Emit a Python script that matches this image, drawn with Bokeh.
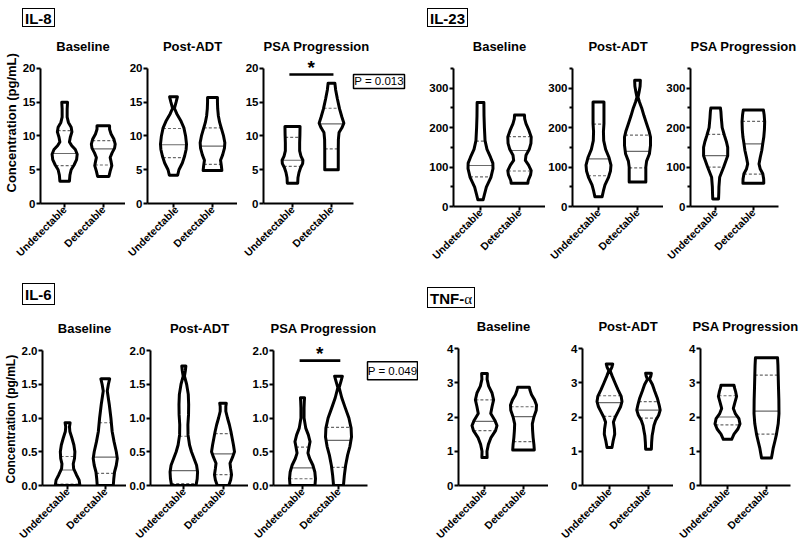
import math
import numpy as np
from bokeh.plotting import figure
from bokeh.models import Range1d, FixedTicker, Div, Title, NumeralTickFormatter
from bokeh.layouts import row, column
from bokeh.embed import file_html
from bokeh.resources import INLINE
from bokeh.core.properties import value

# ---------------- data ----------------
categories = ["Undetectable", "Detectable"]
timepoints = ["Baseline", "Post-ADT", "PSA Progression"]
cytokines = ["IL-8", "IL-23", "IL-6", "TNF-α"]
y_label = "Concentration (pg/mL)"
sig_labels = ["P = 0.013", "P = 0.049"]
sig_bar_levels = [19.1, 1.85]

# violin profiles: levels (y values) and relative half-widths; quartiles [Q1, median, Q3]
il8_base_und_y = [3.3, 4.2, 5.0, 5.7, 6.5, 7.3, 8.0, 8.6, 9.1, 9.8, 10.6, 11.3, 12.0, 12.8, 14.0, 15.0]
il8_base_und_w = [0.38, 0.42, 0.52, 0.75, 0.95, 1.0, 0.85, 0.55, 0.38, 0.45, 0.58, 0.52, 0.3, 0.2, 0.2, 0.23]
il8_base_und_q = [5.6, 7.4, 10.8]
il8_base_det_y = [4.0, 4.8, 5.6, 6.2, 6.8, 7.5, 8.2, 8.8, 9.5, 10.3, 11.0, 11.5]
il8_base_det_w = [0.45, 0.55, 0.68, 0.62, 0.55, 0.7, 0.9, 0.95, 0.85, 0.62, 0.5, 0.5]
il8_base_det_q = [5.7, 8.1, 9.3]
il8_post_und_y = [4.2, 5.0, 6.0, 7.0, 8.0, 8.8, 10.0, 11.2, 12.3, 13.3, 14.1, 15.0, 15.8]
il8_post_und_w = [0.32, 0.42, 0.68, 0.85, 0.97, 1.0, 0.93, 0.8, 0.55, 0.25, 0.07, 0.2, 0.3]
il8_post_und_q = [6.8, 8.7, 11.1]
il8_post_det_y = [4.9, 5.6, 6.4, 7.2, 8.2, 9.0, 10.0, 11.0, 12.0, 13.0, 14.0, 15.0, 15.7]
il8_post_det_w = [0.72, 0.68, 0.62, 0.78, 0.92, 0.95, 0.85, 0.7, 0.55, 0.45, 0.4, 0.38, 0.38]
il8_post_det_q = [5.8, 8.5, 11.2]
il8_psa_und_y = [3.0, 3.8, 4.6, 5.3, 5.9, 6.4, 7.0, 7.8, 9.0, 10.2, 11.4]
il8_psa_und_w = [0.4, 0.42, 0.5, 0.62, 0.78, 0.8, 0.65, 0.55, 0.55, 0.57, 0.58]
il8_psa_und_q = [5.5, 6.4, 9.8]
il8_psa_det_y = [5.0, 6.5, 8.0, 9.5, 10.5, 11.2, 11.9, 12.8, 14.0, 15.5, 16.8, 17.8]
il8_psa_det_w = [0.52, 0.52, 0.52, 0.53, 0.58, 0.8, 0.95, 0.8, 0.62, 0.45, 0.32, 0.26]
il8_psa_det_q = [8.1, 11.8, 14.1]

il23_base_und_y = [17, 30, 49, 74, 96, 110, 125, 145, 167, 200, 230, 264]
il23_base_und_w = [0.2, 0.3, 0.45, 0.8, 0.96, 0.95, 0.77, 0.5, 0.35, 0.3, 0.27, 0.26]
il23_base_und_q = [75, 104, 166]
il23_base_det_y = [59, 66, 80, 91, 105, 117, 130, 145, 160, 176, 195, 210, 222, 232]
il23_base_det_w = [0.64, 0.67, 0.85, 0.9, 0.7, 0.45, 0.5, 0.75, 0.88, 0.9, 0.7, 0.5, 0.4, 0.38]
il23_base_det_q = [90, 142, 177]
il23_post_und_y = [25, 40, 55, 74, 90, 105, 125, 145, 167, 190, 210, 240, 265]
il23_post_und_w = [0.28, 0.38, 0.5, 0.77, 0.92, 0.96, 0.8, 0.55, 0.4, 0.38, 0.42, 0.42, 0.42]
il23_post_und_q = [78, 121, 209]
il23_post_det_y = [62, 80, 100, 115, 134, 155, 176, 190, 210, 230, 250, 265, 277, 290, 305, 320]
il23_post_det_w = [0.64, 0.64, 0.64, 0.7, 0.92, 1.0, 1.0, 0.9, 0.7, 0.5, 0.32, 0.15, 0.04, 0.12, 0.2, 0.22]
il23_post_det_q = [98, 140, 181]
il23_psa_und_y = [19, 35, 49, 74, 100, 129, 150, 165, 180, 200, 225, 240, 250]
il23_psa_und_w = [0.23, 0.25, 0.26, 0.32, 0.64, 0.96, 0.96, 0.85, 0.7, 0.52, 0.45, 0.42, 0.38]
il23_psa_und_q = [100, 129, 183]
il23_psa_det_y = [59, 70, 83, 95, 108, 125, 142, 160, 176, 195, 215, 232, 245]
il23_psa_det_w = [0.83, 0.82, 0.75, 0.55, 0.45, 0.55, 0.67, 0.75, 0.83, 0.88, 0.9, 0.86, 0.8]
il23_psa_det_q = [82, 159, 216]

il6_base_und_y = [0.0, 0.08, 0.16, 0.25, 0.32, 0.4, 0.5, 0.6, 0.7, 0.8, 0.87, 0.93]
il6_base_und_w = [0.98, 0.92, 0.7, 0.48, 0.45, 0.55, 0.58, 0.5, 0.35, 0.18, 0.15, 0.2]
il6_base_und_q = [0.02, 0.23, 0.43]
il6_base_det_y = [0.0, 0.1, 0.2, 0.3, 0.4, 0.5, 0.65, 0.8, 1.0, 1.2, 1.4, 1.5, 1.58]
il6_base_det_w = [0.64, 0.68, 0.74, 0.88, 0.96, 0.88, 0.7, 0.55, 0.45, 0.32, 0.16, 0.25, 0.35]
il6_base_det_q = [0.18, 0.42, 0.93]
il6_post_und_y = [0.0, 0.1, 0.2, 0.3, 0.4, 0.5, 0.6, 0.75, 0.9, 1.05, 1.2, 1.35, 1.5, 1.62, 1.7, 1.77]
il6_post_und_w = [0.96, 1.05, 1.08, 1.0, 0.8, 0.6, 0.45, 0.33, 0.32, 0.37, 0.38, 0.35, 0.22, 0.05, 0.12, 0.16]
il6_post_und_q = [0.03, 0.22, 0.73]
il6_post_det_y = [0.0, 0.08, 0.16, 0.25, 0.33, 0.42, 0.5, 0.6, 0.7, 0.8, 0.9, 1.0, 1.1, 1.17, 1.22]
il6_post_det_w = [0.45, 0.6, 0.67, 0.6, 0.55, 0.75, 0.9, 0.82, 0.72, 0.62, 0.5, 0.35, 0.22, 0.22, 0.26]
il6_post_det_q = [0.16, 0.47, 0.77]
il6_psa_und_y = [0.0, 0.1, 0.2, 0.3, 0.4, 0.48, 0.57, 0.65, 0.75, 0.85, 1.0, 1.15, 1.25, 1.3]
il6_psa_und_w = [0.96, 1.0, 0.95, 0.8, 0.55, 0.42, 0.5, 0.58, 0.45, 0.25, 0.12, 0.12, 0.14, 0.16]
il6_psa_und_q = [0.1, 0.26, 0.57]
il6_psa_det_y = [0.0, 0.15, 0.3, 0.45, 0.58, 0.72, 0.85, 1.0, 1.15, 1.3, 1.45, 1.55, 1.62]
il6_psa_det_w = [0.38, 0.45, 0.55, 0.7, 0.88, 1.0, 0.97, 0.8, 0.52, 0.25, 0.05, 0.2, 0.3]
il6_psa_det_q = [0.27, 0.67, 0.86]

tnf_base_und_y = [0.82, 1.0, 1.2, 1.4, 1.6, 1.75, 1.9, 2.1, 2.3, 2.5, 2.7, 2.9, 3.1, 3.27]
tnf_base_und_w = [0.2, 0.19, 0.3, 0.5, 0.85, 0.96, 0.8, 0.48, 0.58, 0.7, 0.58, 0.32, 0.2, 0.22]
tnf_base_und_q = [1.6, 1.87, 2.5]
tnf_base_det_y = [1.04, 1.2, 1.4, 1.6, 1.8, 2.0, 2.2, 2.35, 2.5, 2.65, 2.78, 2.87]
tnf_base_det_w = [0.83, 0.8, 0.74, 0.7, 0.68, 0.8, 0.98, 1.0, 0.85, 0.62, 0.5, 0.45]
tnf_base_det_q = [1.28, 2.01, 2.3]
tnf_post_und_y = [1.11, 1.3, 1.5, 1.65, 1.85, 2.0, 2.15, 2.3, 2.45, 2.6, 2.8, 3.0, 3.2, 3.35, 3.45, 3.55]
tnf_post_und_w = [0.19, 0.28, 0.4, 0.38, 0.3, 0.45, 0.65, 0.85, 0.96, 0.9, 0.65, 0.42, 0.2, 0.05, 0.18, 0.25]
tnf_post_und_q = [2.02, 2.42, 2.62]
tnf_post_det_y = [1.06, 1.25, 1.45, 1.6, 1.75, 1.9, 2.05, 2.2, 2.35, 2.55, 2.75, 2.95, 3.1, 3.2, 3.28]
tnf_post_det_w = [0.22, 0.24, 0.28, 0.35, 0.42, 0.55, 0.78, 0.9, 0.82, 0.68, 0.48, 0.3, 0.08, 0.18, 0.22]
tnf_post_det_q = [1.97, 2.2, 2.45]
tnf_psa_und_y = [1.35, 1.5, 1.65, 1.8, 1.95, 2.1, 2.25, 2.4, 2.6, 2.75, 2.88, 2.93]
tnf_psa_und_w = [0.32, 0.5, 0.8, 0.96, 0.88, 0.6, 0.45, 0.55, 0.7, 0.62, 0.52, 0.5]
tnf_psa_und_q = [1.77, 2.0, 2.62]
tnf_psa_det_y = [0.8, 0.95, 1.1, 1.3, 1.5, 1.8, 2.1, 2.5, 2.9, 3.2, 3.5, 3.73]
tnf_psa_det_w = [0.38, 0.45, 0.52, 0.65, 0.77, 0.9, 0.96, 0.95, 0.92, 0.9, 0.88, 0.85]
tnf_psa_det_q = [1.5, 2.17, 3.22]

il8_ticks = [0, 5, 10, 15, 20]
il23_ticks = [0, 100, 200, 300]
il23_minor = [50, 150, 250, 350]
il6_ticks = [0.0, 0.5, 1.0, 1.5, 2.0]
tnf_ticks = [0, 1, 2, 3, 4]

# ---------------- styling / helpers ----------------
FONT = "Liberation Sans"
HALF_PX = 13.0  # max violin half width in pixels


def make_fig(title, geo, vgeo, y_top, ticks, minor, ylabel=None, fmt=None,
             title_align="center", title_offset=0):
    fig_left, frame_left, vis_right, frame_right, fig_right, t1, t2 = geo
    row_top, frame_top, axis_top, zero_px, row_bottom = vgeo
    ppu = float(t2 - t1)
    x0 = 1 - (t1 - frame_left) / ppu
    x1 = 2 + (frame_right - t2) / ppu
    xv = 2 + (vis_right - t2) / ppu
    ppy = (zero_px - axis_top) / float(y_top)
    frame_h = zero_px - frame_top
    y_end = frame_h / ppy
    p = figure(width=fig_right - fig_left, height=row_bottom - row_top,
               x_range=Range1d(x0, x1), y_range=Range1d(0, y_end),
               output_backend="svg", toolbar_location=None,
               min_border_left=frame_left - fig_left, min_border_right=fig_right - frame_right,
               min_border_top=frame_top - row_top, min_border_bottom=row_bottom - zero_px, title=title)
    p.title.text_font = FONT
    p.title.text_font_style = "bold"
    p.title.text_font_size = "13px"
    p.title.align = title_align
    p.title.offset = title_offset
    p.title.text_color = "black"
    p.title.standoff = 2
    p.outline_line_color = None
    p.xgrid.visible = False
    p.ygrid.visible = False
    p.background_fill_color = "white"
    p.border_fill_color = "white"
    # x axis
    xa = p.xaxis[0]
    xa.ticker = FixedTicker(ticks=[1, 2])
    xa.bounds = (x0, xv)
    xa.major_label_overrides = {i + 1: c for i, c in enumerate(categories)}
    xa.major_label_orientation = math.pi / 4
    xa.major_label_text_font = FONT
    xa.major_label_text_font_style = "bold"
    xa.major_label_text_font_size = "10.5px"
    xa.major_label_text_color = "black"
    xa.major_label_standoff = 0
    xa.axis_line_width = 2
    xa.major_tick_line_width = 2
    xa.major_tick_out = 4
    xa.major_tick_in = 0
    xa.minor_tick_out = 0
    xa.minor_tick_in = 0
    # y axis
    ya = p.yaxis[0]
    ya.ticker = FixedTicker(ticks=ticks, minor_ticks=minor or [])
    ya.bounds = (0, y_top)
    if fmt:
        ya.formatter = NumeralTickFormatter(format=fmt)
    ya.major_label_text_font = FONT
    ya.major_label_text_font_style = "bold"
    ya.major_label_text_font_size = "11.5px"
    ya.major_label_text_color = "black"
    ya.major_label_standoff = 1
    ya.axis_line_width = 2
    ya.major_tick_line_width = 2
    ya.minor_tick_line_width = 2
    ya.major_tick_out = 4
    ya.major_tick_in = 0
    ya.minor_tick_out = 3 if minor else 0
    ya.minor_tick_in = 0
    if ylabel:
        text, start_px, size = ylabel
        t = Title(text=text, align="left", offset=zero_px - start_px, standoff=2,
                  vertical_align="bottom", text_font=FONT, text_font_style="bold",
                  text_font_size=size, text_color="black")
        p.add_layout(t, "left")
    return p, HALF_PX / ppu, ppy, ppu, xv


def draw_violin(p, cx, ys, ws, q, halfw):
    ys = np.asarray(ys, float)
    hw = np.asarray(ws, float) * halfw
    xs = np.concatenate([cx - hw, (cx + hw)[::-1]])
    yy = np.concatenate([ys, ys[::-1]])
    p.patch(xs, yy, fill_color="white", line_color=None)
    for i, qv in enumerate(q):
        w = float(np.interp(qv, ys, hw))
        p.segment(x0=[cx - w], y0=[qv], x1=[cx + w], y1=[qv],
                  line_color="#6a6a6a", line_width=1.2,
                  line_dash="solid" if i == 1 else "3 2")
    p.patch(xs, yy, fill_color=None, line_color="black", line_width=3, line_join="round")


def add_sig(p, bar_y, ppy, ppu, label, xv, box):
    # box = (left px offset from axis end, width px, centre px below bar, height px)
    p.segment(x0=[0.92], y0=[bar_y], x1=[2.05], y1=[bar_y], line_color="black", line_width=2.6)
    p.text(x=[1.48], y=[bar_y + 7.0 / ppy], text=["*"], text_font=value(FONT),
           text_font_style="bold", text_font_size="19px", text_align="center",
           text_baseline="alphabetic", text_color="black")
    dx, bw, dy, bh = box
    xl = xv + dx / ppu
    xr = xl + bw / ppu
    yc = bar_y - dy / ppy
    p.quad(left=[xl], right=[xr], bottom=[yc - bh / 2.0 / ppy], top=[yc + bh / 2.0 / ppy],
           fill_color="white", line_color="black", line_width=1.5)
    p.text(x=[(xl + xr) / 2.0], y=[yc], text=[label], text_font=value(FONT),
           text_font_size="11.5px", text_align="center", text_baseline="middle", text_color="black")


def header(text, width, height, pt, pl, bh):
    html = ('<div style="padding:%dpx 0 0 %dpx;margin:0;">'
            '<span style="display:inline-block;border:1.5px solid #000;margin:0;'
            'padding:0 2px;height:%dpx;line-height:%dpx;font-family:\'Liberation Sans\',Arial,sans-serif;'
            'font-weight:bold;font-size:15px;color:#000;white-space:nowrap;">%s</span></div>') % (pt, pl, bh, bh, text)
    return Div(text=html, width=width, height=height, margin=0)


def build_row(spec_list, violins, vrow, y_top, ticks, minor, fmt, ylabel=None,
              sig=None, psa_title=("center", 0)):
    figs = []
    for k, geo in enumerate(spec_list):
        align, off = ("center", 0) if k < 2 else psa_title
        p, halfw, ppy, ppu, xv = make_fig(timepoints[k], geo, vrow, y_top, ticks, minor,
                                          ylabel=ylabel if k == 0 else None, fmt=fmt,
                                          title_align=align, title_offset=off)
        for c, (ys, ws, q) in enumerate(violins[k]):
            draw_violin(p, c + 1, ys, ws, q, halfw)
        if sig is not None and k == 2:
            bar_y, label, box = sig
            add_sig(p, bar_y, ppy, ppu, label, xv, box)
        figs.append(p)
    return row(*figs, spacing=0)


# ---------------- layout ----------------
il8_violins = [
    [(il8_base_und_y, il8_base_und_w, il8_base_und_q), (il8_base_det_y, il8_base_det_w, il8_base_det_q)],
    [(il8_post_und_y, il8_post_und_w, il8_post_und_q), (il8_post_det_y, il8_post_det_w, il8_post_det_q)],
    [(il8_psa_und_y, il8_psa_und_w, il8_psa_und_q), (il8_psa_det_y, il8_psa_det_w, il8_psa_det_q)],
]
il23_violins = [
    [(il23_base_und_y, il23_base_und_w, il23_base_und_q), (il23_base_det_y, il23_base_det_w, il23_base_det_q)],
    [(il23_post_und_y, il23_post_und_w, il23_post_und_q), (il23_post_det_y, il23_post_det_w, il23_post_det_q)],
    [(il23_psa_und_y, il23_psa_und_w, il23_psa_und_q), (il23_psa_det_y, il23_psa_det_w, il23_psa_det_q)],
]
il6_violins = [
    [(il6_base_und_y, il6_base_und_w, il6_base_und_q), (il6_base_det_y, il6_base_det_w, il6_base_det_q)],
    [(il6_post_und_y, il6_post_und_w, il6_post_und_q), (il6_post_det_y, il6_post_det_w, il6_post_det_q)],
    [(il6_psa_und_y, il6_psa_und_w, il6_psa_und_q), (il6_psa_det_y, il6_psa_det_w, il6_psa_det_q)],
]
tnf_violins = [
    [(tnf_base_und_y, tnf_base_und_w, tnf_base_und_q), (tnf_base_det_y, tnf_base_det_w, tnf_base_det_q)],
    [(tnf_post_und_y, tnf_post_und_w, tnf_post_und_q), (tnf_post_det_y, tnf_post_det_w, tnf_post_det_q)],
    [(tnf_psa_und_y, tnf_psa_und_w, tnf_psa_und_q), (tnf_psa_det_y, tnf_psa_det_w, tnf_psa_det_q)],
]

# horizontal: (fig_left, frame_left, axis_end, frame_right, fig_right, tick1, tick2) in pixels
il8_spec = [(0, 37, 125, 125, 125, 62, 102), (125, 147, 237, 237, 237, 173, 212),
            (237, 263, 353, 418, 418, 292, 331)]
il6_spec = [(0, 39, 126, 126, 126, 65, 104), (126, 148, 248, 248, 248, 182, 222),
            (248, 273, 367, 418, 418, 302, 338)]
il23_spec = [(418, 453, 545, 545, 545, 480, 519), (545, 572, 663, 663, 663, 598, 637),
             (663, 687, 778, 778, 800, 713, 752)]
tnf_spec = [(418, 458, 548, 548, 548, 484, 523), (548, 582, 673, 673, 673, 609, 648),
            (673, 700, 790, 790, 800, 727, 766)]
# vertical: (row_top, frame_top, y of top tick, y of zero, row_bottom) in pixels
il8_v = (35, 53, 67, 203, 273)
il6_v = (313, 336, 350, 485, 547)
il23_v = (35, 54, 68, 206, 273)
tnf_v = (313, 334, 348, 485, 547)

row_il8 = build_row(il8_spec, il8_violins, il8_v, 20, il8_ticks, None, None,
                    ylabel=(y_label, 192, "13px"),
                    sig=(sig_bar_levels[0], sig_labels[0], (0, 51, 7, 14)), psa_title=("left", 0))
row_il6 = build_row(il6_spec, il6_violins, il6_v, 2.0, il6_ticks, None, "0.0",
                    ylabel=(y_label, 483, "12px"),
                    sig=(sig_bar_levels[1], sig_labels[1], (0, 50, 10, 18)), psa_title=("left", -3))
row_il23 = build_row(il23_spec, il23_violins, il23_v, 350, il23_ticks, il23_minor, None,
                     psa_title=("left", 0))
row_tnf = build_row(tnf_spec, tnf_violins, tnf_v, 4, tnf_ticks, None, None)

left = column(header(cytokines[0], 418, 35, 8, 22, 19), row_il8,
              header(cytokines[2], 418, 40, 10, 22, 22), row_il6, spacing=0)
tnf_html = 'TNF-<span style="font-family:\'Liberation Serif\',serif;font-weight:normal;">α</span>'
right = column(header(cytokines[1], 382, 35, 8, 9, 19), row_il23,
               header(tnf_html, 382, 40, 14, 9, 21), row_tnf, spacing=0)
root = row(left, right, spacing=0)

with open("out.html", "w") as f:
    f.write(file_html(root, INLINE))
